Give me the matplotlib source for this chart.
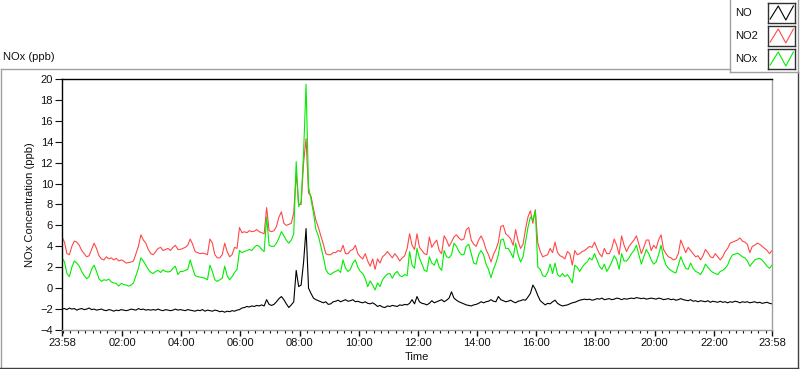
import matplotlib
matplotlib.use("Agg")
import matplotlib.pyplot as plt
import numpy as np
from matplotlib.lines import Line2D
from matplotlib.patches import Rectangle

plt.rcParams['font.family'] = ['Liberation Sans', 'DejaVu Sans']

W, H = 800, 369

# sample times, minutes after midnight (23:58 the day before .. 23:58)
minutes = np.arange(-2, 1440, 5)

# NO (ppb), 5-minute readings, one row per hour after the first value
no = [-2.0,
      -1.95, -2.05, -1.9, -2.0, -1.95, -2.1, -2.0, -1.95, -2.05, -2.0, -1.9, -2.05,
      -2.0, -2.1, -2.05, -2.0, -2.1, -2.15, -2.05, -2.1, -2.2, -2.1, -2.15, -2.05,
      -2.1, -2.15, -2.1, -2.0, -2.05, -2.1, -1.95, -2.05, -2.0, -2.1, -2.05, -2.1,
      -2.05, -2.1, -2.0, -2.1, -2.15, -2.05, -2.1, -2.15, -2.1, -2.0, -2.1, -2.05,
      -2.1, -2.15, -2.05, -2.1, -2.15, -2.2, -2.1, -2.15, -2.05, -2.2, -2.1, -2.15,
      -2.2, -2.1, -2.15, -2.25, -2.2, -2.3, -2.2, -2.25, -2.15, -2.2, -2.1, -2.05,
      -1.9, -1.85, -1.75, -1.8, -1.7, -1.75, -1.65, -1.7, -1.6, -1.7, -1.1, -1.55,
      -1.65, -1.55, -1.3, -1.0, -0.8, -1.1, -1.5, -1.85, -1.6, -1.3, 1.7, 0.15,
      0.3, 2.5, 5.7, 0.0, -0.5, -0.95, -1.1, -1.2, -1.3, -1.4, -1.3, -1.55,
      -1.5, -1.3, -1.25, -1.15, -1.3, -1.2, -1.1, -1.25, -1.2, -1.1, -1.3, -1.25,
      -1.35, -1.4, -1.3, -1.45, -1.5, -1.4, -1.55, -1.75, -1.65, -1.8, -1.85, -1.7,
      -1.75, -1.65, -1.7, -1.75, -1.6, -1.65, -1.55, -1.6, -1.45, -1.1, -1.5, -0.8,
      -1.3, -1.45, -1.5, -1.6, -1.45, -1.2, -1.4, -1.3, -1.2, -1.1, -1.3, -1.15,
      -0.95, -0.35, -0.95, -1.15, -1.3, -1.4, -1.5, -1.6, -1.65, -1.7, -1.6, -1.55,
      -1.45, -1.3, -1.4, -1.3, -1.25, -1.1, -1.25, -1.3, -0.8, -1.1, -1.2, -1.3,
      -1.25, -1.15, -1.3, -1.4, -1.25, -1.2, -1.1, -1.15, -0.85, -0.5, 0.3, -0.1,
      -0.7, -1.2, -1.4, -1.6, -1.45, -1.5, -1.3, -1.15, -1.45, -1.6, -1.7, -1.65,
      -1.6, -1.5, -1.4, -1.35, -1.25, -1.15, -1.1, -1.05, -1.1, -1.05, -1.15, -1.1,
      -1.0, -1.05, -0.95, -1.1, -1.05, -1.0, -1.1, -1.05, -0.95, -1.0, -1.1, -1.0,
      -1.05, -1.0, -0.95, -1.0, -0.9, -0.95, -1.0, -0.95, -1.05, -1.0, -0.95, -1.0,
      -1.05, -0.95, -1.0, -1.1, -1.05, -1.0, -1.1, -1.05, -1.15, -1.1, -1.0, -1.1,
      -1.15, -1.2, -1.1, -1.25, -1.2, -1.3, -1.2, -1.25, -1.3, -1.2, -1.35, -1.25,
      -1.3, -1.35, -1.25, -1.35, -1.3, -1.4, -1.3, -1.35, -1.25, -1.3, -1.4, -1.3,
      -1.35, -1.3, -1.4, -1.35, -1.3, -1.4, -1.35, -1.45, -1.4, -1.35, -1.45, -1.5]

# NO2 (ppb)
no2 = [4.9,
       4.4, 3.3, 3.2, 4.0, 4.5, 4.4, 4.1, 3.6, 3.3, 3.0, 3.1, 3.7,
       4.3, 3.8, 3.1, 2.8, 2.7, 3.0, 2.8, 2.9, 2.7, 2.85, 2.6, 2.7,
       2.6, 2.4, 2.45, 2.5, 2.6, 3.3, 4.0, 5.1, 4.6, 4.3, 3.7, 3.3,
       3.2, 3.5, 3.8, 3.9, 3.6, 3.7, 3.8, 3.6, 3.9, 4.1, 3.7, 3.7,
       3.8, 3.9, 4.1, 4.7, 4.2, 3.5, 3.4, 3.3, 3.35, 3.3, 3.2, 4.7,
       4.3, 3.2, 2.9, 2.9, 3.2, 4.3, 3.5, 3.0, 3.2, 3.9, 3.8, 5.8,
       5.3, 5.4, 5.3, 5.5, 5.4, 5.45, 5.6, 5.4, 5.3, 5.2, 7.7, 5.5,
       5.4, 5.5, 5.9, 6.8, 7.3, 6.2, 6.0, 6.1, 6.2, 7.2, 11.0, 8.0,
       8.0, 12.0, 14.3, 9.1, 8.8, 7.6, 6.5, 5.8, 5.0, 4.2, 3.3, 3.2,
       3.2, 3.4, 3.4, 3.6, 3.5, 4.1, 3.3, 3.3, 3.6, 3.7, 4.1, 3.3,
       3.0, 2.8, 3.3, 2.6, 2.1, 2.8, 1.8, 2.8, 2.4, 3.0, 3.2, 3.5,
       3.2, 2.9, 3.3, 3.0, 2.6, 2.9, 3.1, 3.8, 5.2, 4.1, 3.7, 5.2,
       3.9, 3.6, 3.3, 3.2, 4.9, 3.9, 4.3, 4.6, 3.6, 3.3, 5.0, 4.6,
       4.0, 4.4, 4.9, 5.1, 4.8, 4.6, 4.7, 5.6, 5.8, 4.6, 4.2, 4.0,
       4.6, 5.0, 4.5, 3.7, 3.2, 2.5, 3.2, 3.7, 4.4, 5.9, 6.0, 5.2,
       5.0, 4.7, 4.1, 5.6, 4.5, 3.8, 4.2, 5.6, 6.8, 7.4, 6.2, 7.5,
       4.3, 3.5, 3.0, 3.1, 3.2, 3.8, 3.4, 4.4, 3.4, 3.1, 3.0, 2.8,
       3.5, 3.3, 2.2, 3.6, 3.2, 3.3, 3.5, 3.6, 3.8, 4.0, 3.9, 4.4,
       3.8, 3.3, 3.0, 3.8, 3.3, 3.3, 3.8, 4.7, 4.1, 3.2, 5.0, 4.1,
       3.5, 4.0, 4.3, 4.6, 5.0, 4.2, 3.3, 3.9, 4.6, 4.6, 3.6, 4.1,
       3.8, 4.6, 5.1, 3.7, 3.3, 3.0, 2.9, 2.7, 2.8, 3.3, 4.6, 4.0,
       3.4, 3.9, 3.6, 3.3, 3.0, 3.1, 2.7, 3.1, 3.7, 3.4, 3.0, 2.9,
       3.3, 3.0, 2.7, 3.0, 3.5, 3.8, 4.3, 4.4, 4.5, 4.6, 4.8, 4.5,
       4.4, 4.2, 3.4, 4.0, 4.1, 4.3, 4.2, 4.0, 3.8, 3.6, 3.3, 3.6]

# NOx (ppb)
nox = [2.9,
       2.5, 1.4, 1.1, 2.0, 2.6, 2.4, 2.1, 1.6, 1.2, 0.9, 1.1, 1.8,
       2.2, 1.6, 0.9, 0.65, 0.8, 0.75, 0.85, 0.6, 0.5, 0.45, 0.2, 0.45,
       0.35, 0.3, 0.2, 0.3, 0.5, 1.2, 1.9, 2.9, 2.6, 2.2, 1.8, 1.5,
       1.4, 1.6, 1.7, 1.5, 1.75, 1.6, 1.55, 1.6, 1.9, 2.1, 1.3, 1.6,
       1.6, 1.7, 1.8, 2.7, 1.9, 1.2, 1.1, 1.05, 1.0, 0.95, 0.8, 2.2,
       1.6, 0.8, 0.65, 0.8, 0.95, 2.1, 1.2, 0.8, 1.1, 1.5, 1.8, 3.6,
       3.4, 3.5, 3.6, 3.7, 3.6, 3.9, 4.1, 4.0, 3.7, 3.5, 6.8, 4.1,
       4.0, 4.0, 4.3, 4.8, 5.4, 5.0, 4.6, 4.3, 4.6, 5.2, 12.1, 7.8,
       8.3, 13.0, 19.5, 9.7, 8.5, 7.2, 5.6, 5.0, 4.0, 3.0, 1.8, 1.4,
       1.3, 1.5, 1.6, 1.75, 1.5, 2.7, 1.9, 1.6, 1.8, 2.4, 2.7, 2.0,
       1.6, 1.4, 0.9, 0.15, 0.7, 0.3, -0.17, 0.5, 0.15, 0.8, 1.1, 1.35,
       1.4, 0.95, 1.4, 1.6, 1.2, 1.1, 1.3, 1.2, 3.5, 2.2, 1.9, 3.8,
       2.86, 2.3, 1.7, 1.6, 3.0, 2.4, 2.2, 2.8, 2.0, 1.7, 3.6, 3.0,
       2.9, 3.2, 4.3, 4.0, 3.5, 3.2, 3.2, 4.0, 4.2, 3.3, 2.4, 2.3,
       3.2, 3.6, 3.2, 2.3, 1.8, 1.0, 1.8, 2.4, 3.2, 4.6, 4.7, 3.8,
       3.8, 3.4, 2.9, 4.3, 3.2, 2.5, 3.0, 4.4, 5.8, 6.8, 6.5, 7.4,
       2.0, 1.8, 1.2, 1.1, 1.5, 2.3, 1.4, 2.4, 1.3, 1.1, 1.4, 1.1,
       1.3, 0.95, 0.5, 2.2, 2.0, 1.6, 2.0, 2.3, 2.5, 2.9, 2.7, 3.3,
       2.7, 2.1, 1.8, 2.3, 1.6, 2.0, 2.5, 3.1, 2.7, 1.8, 3.3, 2.6,
       2.6, 2.9, 3.3, 3.6, 4.1, 3.2, 2.3, 3.0, 3.7, 3.3, 2.7, 2.3,
       2.5, 3.2, 4.1, 2.9, 2.2, 1.9, 1.7, 1.55, 1.45, 2.2, 3.0, 2.4,
       1.9, 1.8, 2.4, 1.9, 1.6, 1.5, 1.3, 1.7, 2.3, 2.0, 1.7, 1.5,
       1.4, 1.3, 1.6, 1.7, 1.9, 2.2, 2.8, 3.2, 3.25, 3.35, 3.2, 3.0,
       2.9, 2.6, 2.1, 2.4, 2.7, 2.8, 2.85, 2.7, 2.4, 2.1, 1.9, 2.2]

series_names = ["NO", "NO2", "NOx"]
series_colors = ["#000000", "#ff4848", "#00ee00"]

hour_ticks = [-2 / 60] + list(range(2, 24, 2)) + [24 - 2 / 60]
hour_labels = ["23:58"] + [f"{h:02d}:00" for h in range(2, 24, 2)] + ["23:58"]


def fx(px):
    return px / W


def fy(py):
    return 1 - py / H


fig = plt.figure(figsize=(W / 100, H / 100), dpi=100, facecolor="white")

# outer panel frame
frame = [
    ((0.5, 730), (69, 69), "#a0a0a0"),
    ((0.5, 0.5), (69, 368), "#a0a0a0"),
    ((0, 798), (368, 368), "#404040"),
    ((797.5, 797.5), (72, 368), "#404040"),
    ((730, 730), (0, 72), "#a0a0a0"),
    ((730, 798), (71.5, 71.5), "#a0a0a0"),
    ((797.5, 797.5), (0, 72), "#a0a0a0"),
]
for xs, ys, c in frame:
    fig.add_artist(Line2D([fx(x) for x in xs], [fy(y) for y in ys],
                          transform=fig.transFigure, color=c, lw=1))

fig.text(fx(3), fy(57.5), "NOx (ppb)", fontsize=8, va="center", ha="left", color="#111111")

ax = fig.add_axes([fx(62), fy(330), fx(710), 251 / H])
t = minutes / 60
for vals, c in zip([no, no2, nox], series_colors):
    ax.plot(t, vals, color=c, lw=0.8)

ax.set_xlim(-2 / 60, 24 - 2 / 60)
ax.set_ylim(-4, 20)
ax.set_yticks(range(-4, 21, 2))
ax.set_xticks(hour_ticks)
ax.set_xticklabels(hour_labels)
ax.set_xticks(np.arange(0, 24, 0.25), minor=True)

for side in ("top", "left"):
    ax.spines[side].set_color("black")
for side in ("bottom", "right"):
    ax.spines[side].set_color("#a0a0a0")
for s in ax.spines.values():
    s.set_linewidth(1)

ax.tick_params(axis="y", which="major", direction="out", length=5, width=0.8,
               labelsize=8, pad=1.5, colors="#111111")
ax.tick_params(axis="x", which="major", direction="out", length=4, width=1,
               labelsize=8, pad=2, colors="#111111")
ax.tick_params(axis="x", which="minor", direction="out", length=2.5, width=0.8, colors="#111111")
ax.set_ylabel("NOx Concentration (ppb)", fontsize=8, color="#111111", labelpad=4)
ax.set_xlabel("Time", fontsize=8, color="#111111", labelpad=3)

# legend with swatch boxes
glyph_x = [0.08, 0.38, 0.66, 0.94]
glyph_y = [0.2, 0.85, 0.15, 0.85]
for i, (name, c) in enumerate(zip(series_names, series_colors)):
    yc = 13 + 23 * i
    fig.text(fx(735), fy(yc), name, fontsize=8, va="center", ha="left", color="#111111")
    sw = fig.add_axes([fx(768), fy(yc + 10), fx(27), 20 / H])
    sw.set_xlim(0, 1)
    sw.set_ylim(0, 1)
    sw.set_xticks([])
    sw.set_yticks([])
    for s in sw.spines.values():
        s.set_color("#303030")
        s.set_linewidth(1)
    sw.plot(glyph_x, glyph_y, color=c, lw=0.8)

fig.savefig("out.png", dpi=100, facecolor="white")
